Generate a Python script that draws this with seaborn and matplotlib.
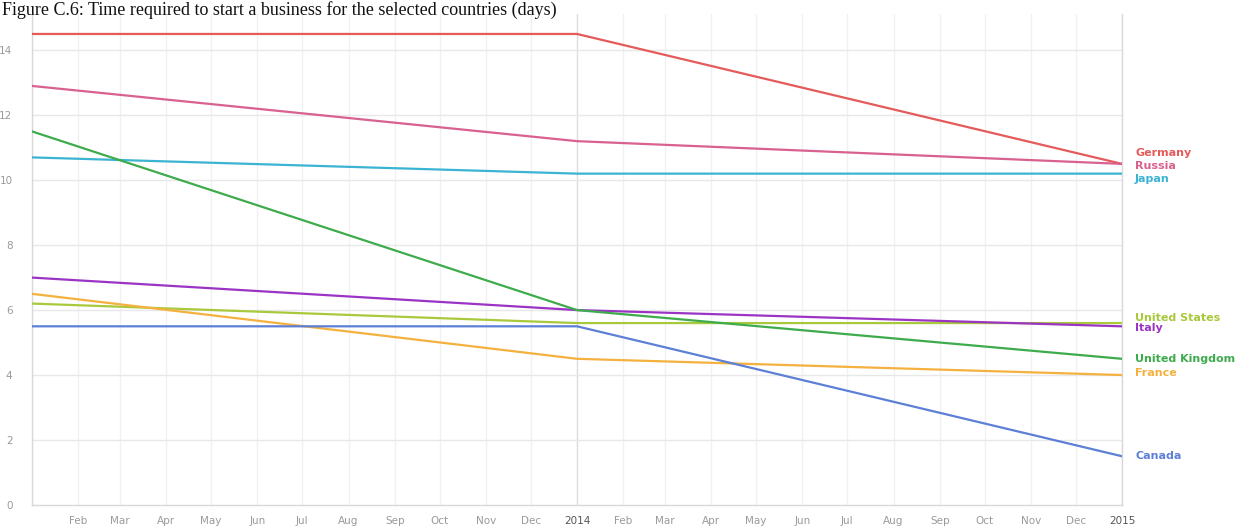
import matplotlib
matplotlib.use("Agg")
import matplotlib.pyplot as plt
import numpy as np
import pandas as pd
import seaborn as sns

# Time required to start a business, days
dates = ["2013-01-01", "2014-01-01", "2015-01-01"]
germany = [14.5, 14.5, 10.5]
russia = [12.9, 11.2, 10.5]
japan = [10.7, 10.2, 10.2]
united_kingdom = [11.5, 6.0, 4.5]
italy = [7.0, 6.0, 5.5]
france = [6.5, 4.5, 4.0]
united_states = [6.2, 5.6, 5.6]
canada = [5.5, 5.5, 1.5]

countries = ["Germany", "Russia", "Japan", "United States", "Italy",
             "United Kingdom", "France", "Canada"]
series = [germany, russia, japan, united_states, italy,
          united_kingdom, france, canada]
colors = ["#e55a5a", "#d9618f", "#3bb3d3", "#a9c93c", "#9b34c4",
          "#3eab4c", "#f4b13e", "#5d80d6"]
# end-of-line label heights (data units), spread apart to stay readable
label_y = [10.85, 10.45, 10.05, 5.75, 5.45, 4.5, 4.05, 1.5]

df = pd.DataFrame({
    "date": pd.to_datetime(dates * len(countries)),
    "country": np.repeat(countries, len(dates)),
    "days": np.concatenate(series),
})

sns.set_theme(style="white")
plt.rcParams["font.family"] = ["DejaVu Sans"]

fig = plt.figure(figsize=(12.5, 5.28), dpi=100)
ax = fig.add_axes([0.0256, 0.0436, 0.872, 0.929])

# month gridlines
months = pd.date_range("2013-01-01", "2015-01-01", freq="MS")
for m in months:
    c = "#dcdcdc" if m.month == 1 and m.year == 2014 else "#f1f1f1"
    ax.axvline(m, color=c, lw=1.0, zorder=0)
for yv in range(2, 16, 2):
    ax.axhline(yv, color="#e8e8e8", lw=1.0, zorder=0)

sns.lineplot(data=df, x="date", y="days", hue="country",
             hue_order=countries, palette=colors, linewidth=1.6,
             legend=False, ax=ax, zorder=3)

ax.set_xlim(pd.Timestamp("2013-01-01"), pd.Timestamp("2015-01-01"))
ax.set_ylim(0, 15.1)
ax.set_xlabel("")
ax.set_ylabel("")

ax.set_xticks(months)
tick_labels = []
for m in months:
    if m.month == 1:
        tick_labels.append("" if m.year == 2013 else str(m.year))
    else:
        tick_labels.append(m.strftime("%b"))
ax.set_xticklabels(tick_labels)
ax.set_yticks(range(0, 16, 2))
ax.tick_params(axis="both", length=0, labelsize=7.5, labelcolor="#9a9a9a")
ax.tick_params(axis="x", pad=8)
ax.tick_params(axis="y", pad=14)
for lbl in ax.get_xticklabels():
    if lbl.get_text() in ("2014", "2015"):
        lbl.set_color("#555555")

for side in ["left", "bottom", "right"]:
    ax.spines[side].set_color("#d8d8d8")
    ax.spines[side].set_linewidth(1.0)
ax.spines["top"].set_visible(False)

for name, col, yv in zip(countries, colors, label_y):
    ax.text(1.012, yv, name, transform=ax.get_yaxis_transform(),
            color=col, fontsize=8, fontweight="bold", va="center", ha="left")

fig.text(0.002, 0.998, "Figure C.6: Time required to start a business for the selected countries (days)",
         family="Liberation Serif", fontsize=13, color="#111111", ha="left", va="top")

fig.savefig("out.png", dpi=100, facecolor="white")
